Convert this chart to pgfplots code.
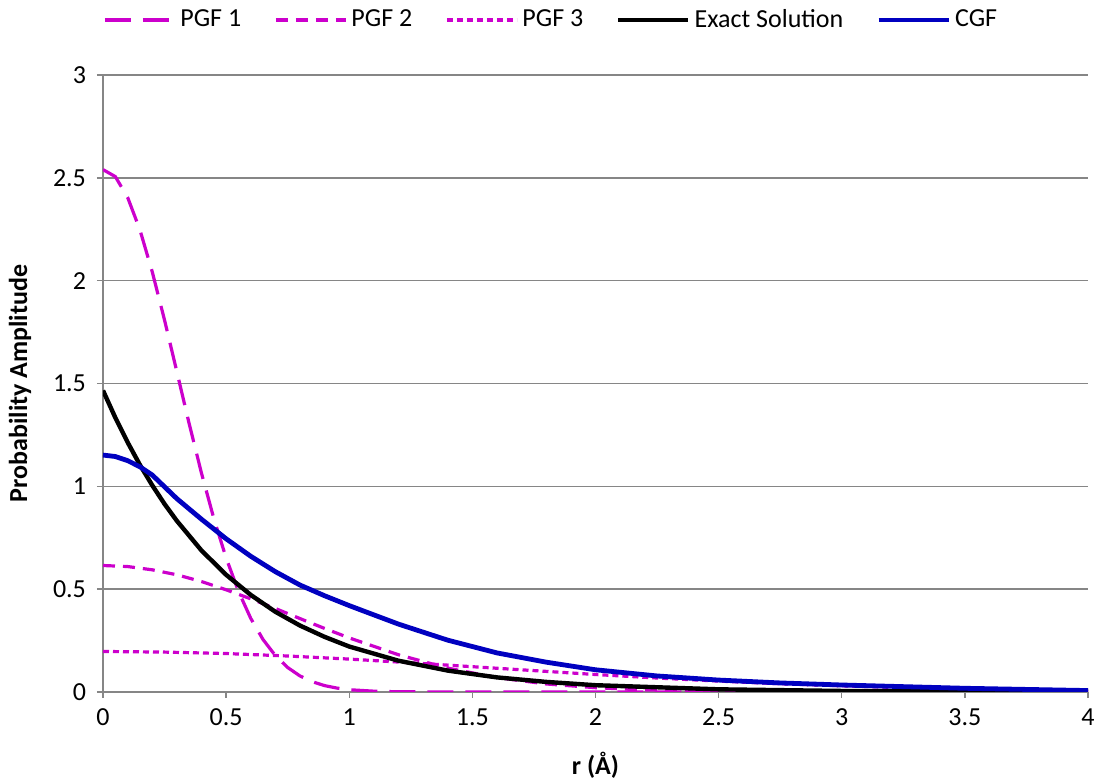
\documentclass[border=0pt]{standalone}
\usepackage{fontspec}
\setmainfont{Carlito}
\usepackage{pgfplots}
\pgfplotsset{compat=1.18}

\definecolor{pgfmag}{RGB}{204,0,204}
\definecolor{cgfblue}{RGB}{0,0,192}
\definecolor{gridgray}{RGB}{134,134,134}

\begin{document}
\begin{tikzpicture}
\begin{axis}[
    name=ax,
    scale only axis,
    width=492.5pt, height=308.5pt,
    xmin=0, xmax=4, ymin=0, ymax=3,
    xtick={0,0.5,...,4},
    ytick={0,0.5,...,3},
    axis x line=bottom, axis y line=left,
    axis line style={-, draw=gridgray, line width=0.7pt},
    tick align=outside,
    major tick length=3pt,
    tick style={draw=gridgray, line width=0.7pt},
    ymajorgrids,
    grid style={draw=gridgray, line width=0.7pt},
    /pgf/number format/assume math mode=true,
    ticklabel style={font=\fontsize{13}{15}\selectfont},
    xticklabel style={yshift=-2pt},
    yticklabel style={xshift=-2pt},
    xlabel={\bfseries r (Å)},
    ylabel={\bfseries Probability Amplitude},
    every axis x label/.style={at={(rel axis cs:0.5,0)}, anchor=center,
        yshift=-36.5pt, font=\fontsize{13}{15}\selectfont},
    every axis y label/.style={at={(rel axis cs:0,0.5)}, anchor=center,
        rotate=90, yshift=41.5pt, font=\fontsize{13}{15}\selectfont},
    legend columns=5,
    legend style={draw=none, fill=none, at={(rel axis cs:0.456,1)}, anchor=center,
        yshift=27.5pt, font=\fontsize{13}{15}\selectfont,
        nodes={inner xsep=2pt},
        /tikz/every even column/.append style={column sep=14.5pt}},
    legend image code/.code={\draw[#1] (0pt,0pt) -- (35pt,0pt);},
    clip=true
]

\addplot[pgfmag, line width=1.6pt, dash pattern=on 13pt off 6pt] coordinates {
    (0,2.540) (0.05,2.506) (0.1,2.405) (0.15,2.247) (0.2,2.043) (0.25,1.808)
    (0.3,1.557) (0.35,1.304) (0.4,1.064) (0.45,0.844) (0.5,0.652) (0.55,0.490)
    (0.6,0.358) (0.65,0.255) (0.7,0.177) (0.75,0.119) (0.8,0.078) (0.85,0.050)
    (0.9,0.031) (0.95,0.019) (1.0,0.011) (1.1,0.004) (1.2,0.001) (1.5,0)
    (2,0) (2.5,0) (3,0) (3.5,0) (4,0)
};
\addlegendentry{PGF 1}

\addplot[pgfmag, line width=1.6pt, dash pattern=on 6pt off 4pt] coordinates {
    (0,0.615) (0.1,0.610) (0.2,0.594) (0.3,0.570) (0.4,0.537) (0.5,0.497)
    (0.6,0.453) (0.7,0.406) (0.8,0.357) (0.9,0.309) (1.0,0.263) (1.2,0.181)
    (1.4,0.116) (1.6,0.070) (1.8,0.039) (2.0,0.021) (2.2,0.010) (2.4,0.005)
    (2.6,0.002) (3.0,0) (3.5,0) (4,0)
};
\addlegendentry{PGF 2}

\addplot[pgfmag, line width=1.6pt, dash pattern=on 3pt off 2pt] coordinates {
    (0,0.197) (0.25,0.194) (0.5,0.187) (0.75,0.175) (1.0,0.160) (1.25,0.142)
    (1.5,0.123) (1.75,0.104) (2.0,0.085) (2.25,0.068) (2.5,0.053) (2.75,0.040)
    (3.0,0.030) (3.25,0.021) (3.5,0.015) (3.75,0.010) (4.0,0.007)
};
\addlegendentry{PGF 3}

\addplot[black, line width=2.2pt] coordinates {
    (0,1.466) (0.05,1.334) (0.1,1.214) (0.15,1.104) (0.2,1.005) (0.25,0.914)
    (0.3,0.832) (0.4,0.688) (0.5,0.570) (0.6,0.472) (0.7,0.390) (0.8,0.323)
    (0.9,0.268) (1.0,0.221) (1.2,0.152) (1.4,0.104) (1.6,0.071) (1.8,0.049)
    (2.0,0.033) (2.5,0.013) (3.0,0.005) (3.5,0.002) (4.0,0.001)
};
\addlegendentry{Exact Solution}

\addplot[cgfblue, line width=2.4pt] coordinates {
    (0,1.152) (0.05,1.145) (0.1,1.125) (0.15,1.095) (0.2,1.055) (0.3,0.940)
    (0.4,0.840) (0.5,0.745) (0.6,0.660) (0.7,0.585) (0.8,0.520) (0.9,0.468)
    (1.0,0.420) (1.2,0.330) (1.4,0.252) (1.6,0.190) (1.8,0.145) (2.0,0.108)
    (2.25,0.078) (2.5,0.058) (2.75,0.044) (3.0,0.034) (3.5,0.018) (4.0,0.007)
};
\addlegendentry{CGF}

\end{axis}
\pgfresetboundingbox
\path ([shift={(-51.5pt,-44.5pt)}]ax.south west) rectangle ([shift={(3pt,37.5pt)}]ax.north east);
\end{tikzpicture}
\end{document}
